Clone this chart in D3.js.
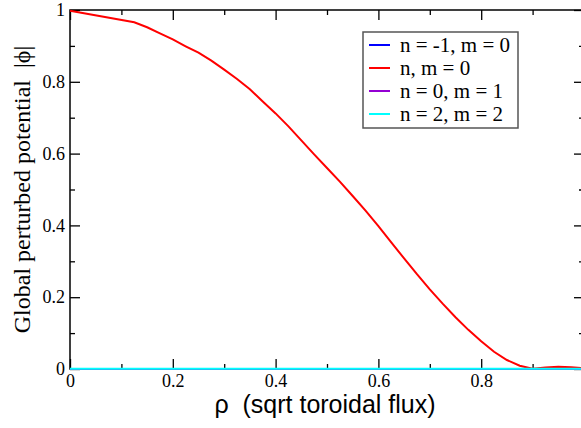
<!DOCTYPE html>
<html>
<head>
<meta charset="utf-8">
<script src="https://cdn.jsdelivr.net/npm/d3@7"></script>
<style>
  body { margin: 0; background: #fff; }
  svg { display: block; }
  .serif, .tick text { font-family: "Liberation Serif", "Times New Roman", Times, Tinos, "Nimbus Roman", "DejaVu Serif", serif; }
  .tick text { font-size: 18px; fill: #000; }
</style>
</head>
<body>
<svg id="chart" width="581" height="428"></svg>
<script>
// radial grid (sqrt toroidal flux)
const rho = [0, 0.125, 0.15, 0.175, 0.2, 0.225, 0.25, 0.275, 0.3, 0.325, 0.35, 0.375, 0.4, 0.425, 0.45, 0.475,
  0.5, 0.525, 0.55, 0.575, 0.6, 0.625, 0.65, 0.675, 0.7, 0.725, 0.75, 0.775, 0.8, 0.825, 0.85, 0.875,
  0.9, 0.925, 0.95, 0.975, 1.0];
// |phi| for each mode
const phiNm0 = [0.998, 0.966, 0.952, 0.935, 0.918, 0.899, 0.881, 0.859, 0.834, 0.808, 0.779, 0.745, 0.712, 0.676, 0.637, 0.598,
  0.560, 0.522, 0.482, 0.441, 0.398, 0.353, 0.308, 0.264, 0.222, 0.182, 0.144, 0.109, 0.077, 0.048, 0.025, 0.009,
  0.001, 0.004, 0.006, 0.005, 0.002];
const phiN1m0 = rho.map(() => 0);
const phiN0m1 = rho.map(() => 0);
const phiN2m2 = rho.map(() => 0.001);

const series = [
  {label: "n = -1, m = 0", values: phiN1m0, color: "#0000ff"},
  {label: "n, m = 0", values: phiNm0, color: "#ff0000"},
  {label: "n = 0, m = 1", values: phiN0m1, color: "#9400d3"},
  {label: "n = 2, m = 2", values: phiN2m2, color: "#00ffff"}
];

const xMajor = [0, 0.2, 0.4, 0.6, 0.8];
const xMinor = [0.1, 0.3, 0.5, 0.7, 0.9];
const yMajor = [0, 0.2, 0.4, 0.6, 0.8, 1];
const yMinor = [0.1, 0.3, 0.5, 0.7, 0.9];

const padL = 70, padR = 584, padT = 10, padB = 369;
const svg = d3.select("#chart");

const x = d3.scaleLinear().domain([0, 1]).range([padL, padR]);
const y = d3.scaleLinear().domain([0, 1]).range([padB, padT]);
const fmt = d => d === 0 ? "0" : d === 1 ? "1" : d3.format(".1f")(d);

function styleAxis(g) {
  g.attr("font-family", null);
  g.select(".domain").remove();
  g.selectAll(".tick line").attr("stroke", "#000").attr("stroke-width", 1.3);
}

// major / minor ticks, pointing inward on all four sides
svg.append("g").attr("transform", "translate(0," + padB + ")")
  .call(d3.axisBottom(x).tickValues(xMajor).tickSize(-10).tickPadding(5).tickFormat(fmt)).call(styleAxis);
svg.append("g").attr("transform", "translate(0," + padB + ")")
  .call(d3.axisBottom(x).tickValues(xMinor).tickSize(-5).tickFormat("")).call(styleAxis);
svg.append("g").attr("transform", "translate(0," + padT + ")")
  .call(d3.axisTop(x).tickValues(xMajor).tickSize(-10).tickFormat("")).call(styleAxis);
svg.append("g").attr("transform", "translate(0," + padT + ")")
  .call(d3.axisTop(x).tickValues(xMinor).tickSize(-5).tickFormat("")).call(styleAxis);
svg.append("g").attr("transform", "translate(" + padL + ",0)")
  .call(d3.axisLeft(y).tickValues(yMajor).tickSize(-10).tickPadding(5).tickFormat(fmt)).call(styleAxis);
svg.append("g").attr("transform", "translate(" + padL + ",0)")
  .call(d3.axisLeft(y).tickValues(yMinor).tickSize(-5).tickFormat("")).call(styleAxis);
svg.append("g").attr("transform", "translate(" + padR + ",0)")
  .call(d3.axisRight(y).tickValues(yMajor).tickSize(-10).tickFormat("")).call(styleAxis);
svg.append("g").attr("transform", "translate(" + padR + ",0)")
  .call(d3.axisRight(y).tickValues(yMinor).tickSize(-5).tickFormat("")).call(styleAxis);

// frame
svg.append("rect")
  .attr("x", padL).attr("y", padT)
  .attr("width", padR - padL).attr("height", padB - padT)
  .attr("fill", "none").attr("stroke", "#000").attr("stroke-width", 1.5);

const line = d3.line()
  .x((d, i) => x(rho[i]))
  .y(d => y(d));

series.forEach(s => {
  svg.append("path")
    .datum(s.values)
    .attr("fill", "none")
    .attr("stroke", s.color)
    .attr("stroke-width", 2)
    .attr("d", line);
});

// axis titles
svg.append("text")
  .attr("x", (padL + padR) / 2 - 2).attr("y", 413)
  .attr("text-anchor", "middle")
  .attr("xml:space", "preserve")
  .style("font-family", "'Liberation Sans', Arial, sans-serif")
  .style("font-size", "25px")
  .text("ρ  (sqrt toroidal flux)");

svg.append("text")
  .attr("class", "serif")
  .attr("transform", "translate(30," + ((padT + padB) / 2) + ") rotate(-90)")
  .attr("text-anchor", "middle")
  .attr("xml:space", "preserve")
  .style("font-size", "24px")
  .text("Global perturbed potential  |ϕ|");

// legend
const legend = svg.append("g");
legend.append("rect")
  .attr("x", 363).attr("y", 32).attr("width", 155).attr("height", 96)
  .attr("fill", "#fff").attr("stroke", "#555").attr("stroke-width", 1.5);
series.forEach((s, i) => {
  const ly = 45 + i * 23;
  legend.append("line")
    .attr("x1", 369).attr("x2", 390).attr("y1", ly).attr("y2", ly)
    .attr("stroke", s.color).attr("stroke-width", 2);
  legend.append("text")
    .attr("class", "serif")
    .attr("x", 400).attr("y", ly + 7)
    .style("font-size", "21px")
    .text(s.label);
});
</script>
</body>
</html>
